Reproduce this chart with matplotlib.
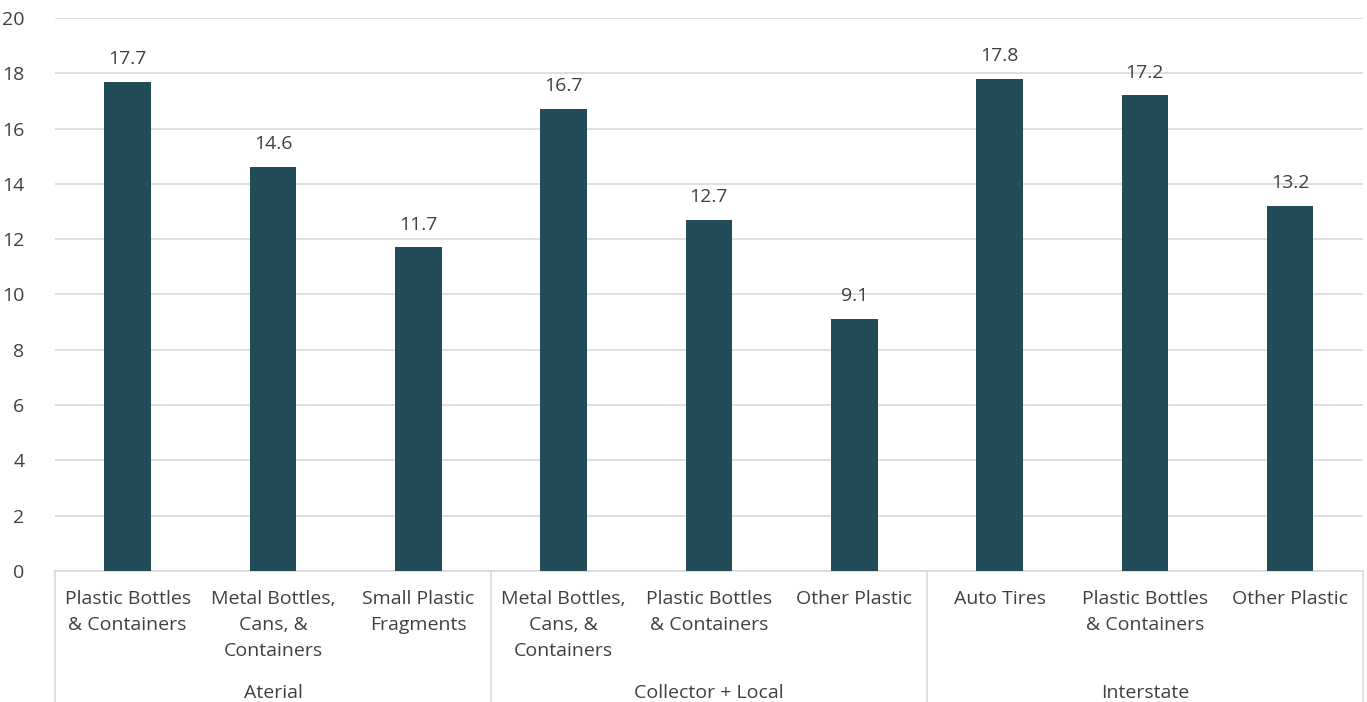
import numpy as np
import matplotlib.pyplot as plt
from matplotlib.lines import Line2D

plt.rcParams['font.family'] = ['Open Sans', 'DejaVu Sans']

# two-level category axis: item within each road type
groups = ['Aterial', 'Collector + Local', 'Interstate']
items = [
    'Plastic Bottles\n& Containers', 'Metal Bottles,\nCans, &\nContainers', 'Small Plastic\nFragments',
    'Metal Bottles,\nCans, &\nContainers', 'Plastic Bottles\n& Containers', 'Other Plastic',
    'Auto Tires', 'Plastic Bottles\n& Containers', 'Other Plastic',
]
values = [17.7, 14.6, 11.7, 16.7, 12.7, 9.1, 17.8, 17.2, 13.2]
per_group = 3

bar_color = '#214C58'
text_color = '#404040'
grid_color = '#D9D9D9'
fs = 14

fig = plt.figure(figsize=(13.67, 7.02), dpi=100)
ax = fig.add_axes([0.0402, 0.1866, 0.9568, 0.7878])

x = np.arange(len(values))
ax.bar(x, values, width=0.32, color=bar_color, zorder=3)
for xi, v in zip(x, values):
    ax.annotate(f'{v:.1f}', (xi, v), xytext=(0, 10), textcoords='offset points',
                ha='center', va='bottom', fontsize=fs, color=text_color)

ax.set_xlim(-0.5, len(values) - 0.5)
ax.set_ylim(0, 20)
ax.set_yticks(np.arange(0, 21, 2))
ax.tick_params(axis='y', length=0, pad=22, labelsize=fs, labelcolor=text_color)
ax.set_xticks([])
ax.yaxis.grid(True, color=grid_color, linewidth=1.2, zorder=0)
for s in ['top', 'right', 'left']:
    ax.spines[s].set_visible(False)
ax.spines['bottom'].set_color(grid_color)
ax.spines['bottom'].set_linewidth(1.2)

# item labels and group labels below the axis
trans = ax.get_xaxis_transform()
for xi, lab in zip(x, items):
    ax.annotate(lab, (xi, 0), xycoords=trans, xytext=(0, -14), textcoords='offset points',
                ha='center', va='top', fontsize=fs, color=text_color, linespacing=1.55)
for gi, g in enumerate(groups):
    center = gi * per_group + (per_group - 1) / 2
    ax.annotate(g, (center, 0), xycoords=trans, xytext=(0, -88), textcoords='offset points',
                ha='center', va='center', fontsize=fs, color=text_color)

# vertical separators between groups
for b in np.arange(0, len(values) + 1, per_group) - 0.5:
    ax.add_line(Line2D([b, b], [0, -0.25], transform=trans, color=grid_color,
                       linewidth=1.2, clip_on=False))

fig.savefig('out.png', dpi=100)
